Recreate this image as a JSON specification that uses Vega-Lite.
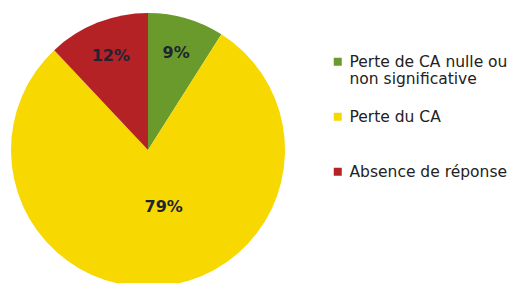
{
  "$schema": "https://vega.github.io/schema/vega-lite/v6.json",
  "width": 296,
  "height": 300,
  "padding": 0,
  "background": "white",
  "view": {"stroke": null},
  "data": {"values": [
    {"idx": 1, "cat": "Perte de CA nulle ou non significative", "share": 0.09},
    {"idx": 2, "cat": "Perte du CA", "share": 0.79},
    {"idx": 3, "cat": "Absence de réponse", "share": 0.12}
  ]},
  "transform": [
    {"stack": "share", "groupby": [], "sort": [{"field": "idx", "order": "ascending"}], "as": ["s0", "s1"]},
    {"calculate": "(datum.s0 + datum.s1) / 2", "as": "mid"}
  ],
  "encoding": {
    "color": {
      "field": "cat", "type": "nominal",
      "scale": {
        "domain": ["Perte de CA nulle ou non significative", "Perte du CA", "Absence de réponse"],
        "range": ["#6a9a2c", "#f7d800", "#b52226"]
      },
      "legend": {
        "title": null,
        "orient": "none",
        "legendX": 330,
        "legendY": 54,
        "symbolType": "square",
        "symbolSize": 64,
        "symbolStrokeWidth": 0,
        "labelFont": "DejaVu Sans",
        "labelFontSize": 15.5,
        "labelColor": "#222222",
        "labelLimit": 300,
        "labelOffset": 4,
        "rowPadding": 21,
        "labelExpr": "datum.label == 'Perte de CA nulle ou non significative' ? ['Perte de CA nulle ou', 'non significative'] : [datum.label, '']"
      }
    }
  },
  "layer": [
    {
      "mark": {"type": "arc", "outerRadius": 137},
      "encoding": {
        "theta": {"field": "s0", "type": "quantitative", "stack": null, "scale": {"domain": [0, 1]}},
        "theta2": {"field": "s1"}
      }
    },
    {
      "transform": [{"filter": "datum.cat != 'Perte du CA'"}],
      "mark": {"type": "text", "radius": 101, "font": "DejaVu Sans", "fontWeight": "bold", "fontSize": 16, "color": "#1e2433"},
      "encoding": {
        "theta": {"field": "mid", "type": "quantitative", "stack": null, "scale": {"domain": [0, 1]}},
        "text": {"field": "share", "type": "quantitative", "format": ".0%"},
        "color": {"value": "#1e2433"}
      }
    },
    {
      "transform": [{"filter": "datum.cat == 'Perte du CA'"}],
      "mark": {"type": "text", "radius": 60, "dx": 10, "dy": -3, "font": "DejaVu Sans", "fontWeight": "bold", "fontSize": 16, "color": "#1e2433"},
      "encoding": {
        "theta": {"field": "mid", "type": "quantitative", "stack": null, "scale": {"domain": [0, 1]}},
        "text": {"field": "share", "type": "quantitative", "format": ".0%"},
        "color": {"value": "#1e2433"}
      }
    }
  ]
}
